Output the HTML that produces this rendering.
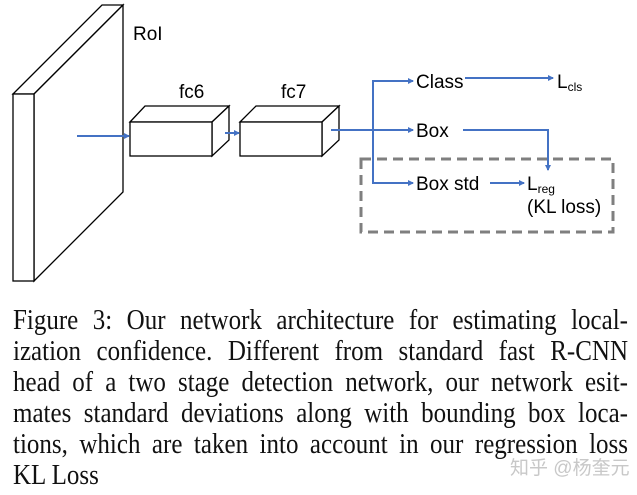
<!DOCTYPE html>
<html><head><meta charset="utf-8"><style>
body{margin:0;width:637px;height:495px;background:#fff;position:relative;overflow:hidden}
svg{position:absolute;left:0;top:0}
.l{position:absolute;left:13px;width:615px;font-family:"Liberation Serif",serif;font-size:25px;line-height:31px;text-align:justify;text-align-last:justify;color:#111;white-space:nowrap;transform-origin:0 50%;transform:scaleY(1.15)}
.wm{position:absolute;left:510px;top:453px;font-family:"Liberation Sans","Noto Sans CJK SC",sans-serif;font-size:19px;color:#c8c8c8}
</style></head><body>
<svg width="637" height="300" viewBox="0 0 637 300">
<defs><marker id="a" markerWidth="6" markerHeight="6" refX="5" refY="3" orient="auto" markerUnits="userSpaceOnUse"><path d="M0,0 L6,3 L0,6z" fill="#4472c4"/></marker></defs>
<g fill="#fff" stroke="#000" stroke-width="1.3">
<path d="M13,94 L102,5 L123,5 L34,94z"/><path d="M34,94 L123,5 L123,192 L34,281z"/><rect x="13" y="94" width="21" height="187"/>
<path d="M130,122 L145,106 L229,106 L212,122z"/><path d="M212,122 L229,106 L229,140 L212,156z"/><rect x="130" y="122" width="82" height="34"/>
<path d="M240,122 L256,106 L339,106 L322,122z"/><path d="M322,122 L339,106 L339,140 L322,156z"/><rect x="240" y="122" width="82" height="34"/>
</g>
<rect x="361" y="159" width="252" height="73" fill="none" stroke="#7f7f7f" stroke-width="3" stroke-dasharray="10,6"/>
<g stroke="#4472c4" stroke-width="2" fill="none">
<line x1="77" y1="136" x2="129" y2="136" marker-end="url(#a)"/>
<line x1="225" y1="133" x2="239" y2="133" marker-end="url(#a)"/>
<line x1="331" y1="130" x2="413" y2="130" marker-end="url(#a)"/>
<path d="M413,81 L373,81 L373,183 L413,183" />
<line x1="373" y1="81" x2="413" y2="81" marker-end="url(#a)"/>
<line x1="373" y1="183" x2="413" y2="183" marker-end="url(#a)"/>
<line x1="465" y1="78" x2="553" y2="78" marker-end="url(#a)"/>
<path d="M463,130 L548,130 L548,170" marker-end="url(#a)"/>
<line x1="490" y1="183" x2="524" y2="183" marker-end="url(#a)"/>
</g>
<g font-family="Liberation Sans,sans-serif" font-size="19" fill="#000">
<text x="133" y="40">RoI</text>
<text x="179" y="98">fc6</text>
<text x="281" y="98">fc7</text>
<text x="416" y="88">Class</text>
<text x="557" y="88">L<tspan font-size="12" dy="3">cls</tspan></text>
<text x="416" y="137">Box</text>
<text x="416" y="190">Box std</text>
<text x="527" y="190">L<tspan font-size="12" dy="3">reg</tspan></text>
<text x="527" y="213">(KL loss)</text>
</g>
</svg>
<div class="l" style="top:305px">Figure 3:  Our network architecture for estimating local-</div>
<div class="l" style="top:336px">ization confidence.  Different from standard fast R-CNN</div>
<div class="l" style="top:367px">head of a two stage detection network, our network esit-</div>
<div class="l" style="top:398px">mates standard deviations along with bounding box loca-</div>
<div class="l" style="top:429px">tions, which are taken into account in our regression loss</div>
<div class="l" style="top:460px;text-align-last:left">KL Loss</div>
<div class="wm">知乎 @杨奎元</div>
</body></html>
